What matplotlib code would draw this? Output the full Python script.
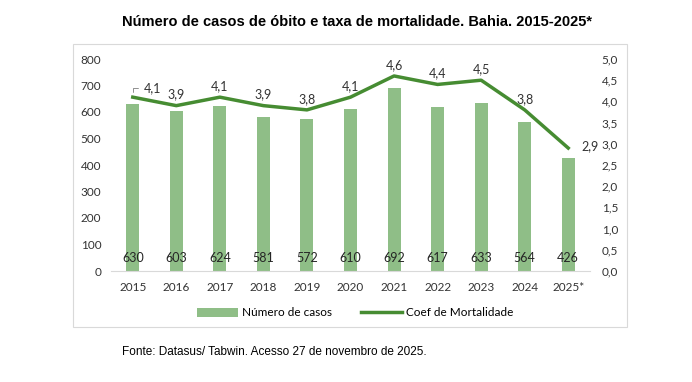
import matplotlib.pyplot as plt
import numpy as np
from matplotlib.patches import Rectangle

anos = ['2015', '2016', '2017', '2018', '2019', '2020', '2021', '2022', '2023', '2024', '2025*']
casos = [630, 603, 624, 581, 572, 610, 692, 617, 633, 564, 426]
coef = [4.1, 3.9, 4.1, 3.9, 3.8, 4.1, 4.6, 4.4, 4.5, 3.8, 2.9]
coef_txt = ['4,1', '3,9', '4,1', '3,9', '3,8', '4,1', '4,6', '4,4', '4,5', '3,8', '2,9']

cor_barra = '#8fbe87'
cor_linha = '#468c32'
fonte = 'Lato'

fig = plt.figure(figsize=(6.92, 3.82), dpi=100)

# moldura do grafico
fig.patches.append(Rectangle((73/692, 1-327/382), 554/692, 283/382, transform=fig.transFigure,
                             fill=False, edgecolor='#d9d9d9', linewidth=0.8))

ax = fig.add_axes([111/692, 1-271/382, 479/692, 212/382])
x = np.arange(len(anos))
ax.bar(x, casos, width=0.3, color=cor_barra, label='Número de casos', zorder=2)
for xi, v in zip(x, casos):
    ax.text(xi, 50, str(v), ha='center', va='center', fontsize=9, family=fonte, color='#262626', zorder=5)

ax.set_ylim(0, 800)
ax.set_yticks(range(0, 801, 100))
ax.set_xlim(-0.5, len(anos) - 0.5)
ax.set_xticks(x)
ax.set_xticklabels(anos, family=fonte, fontsize=8.5, color='#333333')
for lb in ax.get_yticklabels():
    lb.set_family(fonte); lb.set_fontsize(8.5); lb.set_color('#333333')
ax.tick_params(length=0, pad=8)
ax.tick_params(axis='y', pad=7)
for s in ['top', 'right', 'left']:
    ax.spines[s].set_visible(False)
ax.spines['bottom'].set_color('#d9d9d9')

ax2 = ax.twinx()
ax2.plot(x, coef, color=cor_linha, linewidth=2.5, label='Coef de Mortalidade', zorder=3)
ax2.set_ylim(0, 5)
ax2.set_yticks(np.arange(0, 5.01, 0.5))
ax2.set_yticklabels([f'{v:.1f}'.replace('.', ',') for v in np.arange(0, 5.01, 0.5)],
                    family=fonte, fontsize=8.5, color='#333333')
ax2.tick_params(length=0, pad=8.5)
for s in ax2.spines.values():
    s.set_visible(False)

for i, (xi, v, t) in enumerate(zip(x, coef, coef_txt)):
    if i == 0:
        ax2.annotate(t, xy=(xi, v + 0.05), xytext=(xi + 0.25, v + 0.22), ha='left', va='center',
                     fontsize=9, family=fonte, color='#333333',
                     arrowprops=dict(arrowstyle='-', color='#7f7f7f', lw=0.6,
                                     connectionstyle='angle,angleA=0,angleB=90,rad=0'))
    elif i == len(x) - 1:
        ax2.text(xi + 0.3, v + 0.05, t, ha='left', va='center', fontsize=9, family=fonte, color='#333333')
    else:
        ax2.text(xi, v + 0.12, t, ha='center', va='bottom', fontsize=9, family=fonte, color='#333333')

h1, l1 = ax.get_legend_handles_labels()
h2, l2 = ax2.get_legend_handles_labels()
fig.legend(h1 + h2, l1 + l2, loc='center', bbox_to_anchor=(355/692, 1-313/382), ncol=2,
           frameon=False, prop={'family': fonte, 'size': 8.5}, handlelength=3.5,
           columnspacing=2.5, handletextpad=0.3)

fig.text(357/692, 1-22/382, 'Número de casos de óbito e taxa de mortalidade. Bahia. 2015-2025*',
         ha='center', va='center', fontsize=10.5, fontweight='bold', family='Liberation Sans')
fig.text(122/692, 1-352/382, 'Fonte: Datasus/ Tabwin. Acesso 27 de novembro de 2025.',
         ha='left', va='center', fontsize=8.5, family='Liberation Sans')

fig.savefig('out.png', dpi=100)
